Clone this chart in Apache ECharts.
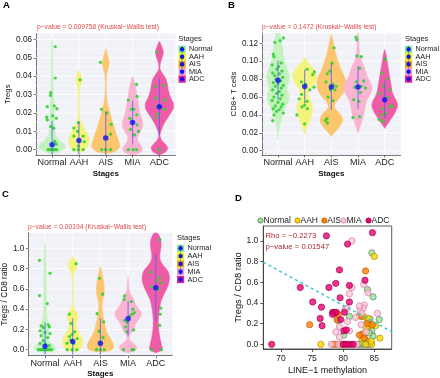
<!DOCTYPE html>
<html><head><meta charset="utf-8">
<script src="https://cdn.jsdelivr.net/npm/echarts@6/dist/echarts.min.js"></script>
<style>html,body{margin:0;padding:0;background:#fff}#c{width:440px;height:378px}</style>
</head><body><div id="c"></div>
<script>
const stages = ['Normal','AAH','AIS','MIA','ADC'];
const violinFill = ['#C4F2BE','#F4F47C','#FAC66E','#F8B4D0','#EE5CA8'];
const keyFill = ['#86EC86','#F2F200','#F5A300','#F5A0C8','#EC1E8E'];
const dFill = ['#8EE88E','#FFD400','#FF8000','#F9C8D8','#E8006E'];
const dStroke = ['#6A6A6A','#A88400','#B05800','#D8709A','#9A0048'];

// ---------- Panel A : Tregs ----------
const tregsTicks = [0,0.01,0.02,0.03,0.04,0.05,0.06];
const tregsMinor = [0.005,0.015,0.025,0.035,0.045,0.055];
const tregsViolin = [
  [[-0.0025,0],[-0.001,0.25],[0.001,0.44],[0.003,0.4],[0.005,0.25],[0.008,0.12],[0.012,0.08],[0.018,0.07],[0.024,0.06],[0.03,0.04],[0.04,0.025],[0.05,0.02],[0.057,0.015],[0.06,0]],
  [[-0.002,0],[0,0.2],[0.002,0.3],[0.005,0.34],[0.008,0.3],[0.011,0.2],[0.014,0.1],[0.017,0.03],[0.022,0.015],[0.03,0.015],[0.034,0.03],[0.036,0.08],[0.0385,0.09],[0.041,0.05],[0.043,0]],
  [[-0.0022,0],[-0.001,0.3],[0.001,0.45],[0.003,0.46],[0.006,0.4],[0.01,0.32],[0.014,0.24],[0.018,0.17],[0.022,0.11],[0.026,0.05],[0.03,0.02],[0.036,0.015],[0.041,0.03],[0.044,0.08],[0.047,0.11],[0.05,0.08],[0.053,0.03],[0.055,0]],
  [[-0.003,0],[-0.0015,0.25],[0,0.33],[0.002,0.28],[0.0045,0.18],[0.007,0.16],[0.01,0.26],[0.013,0.34],[0.016,0.32],[0.02,0.24],[0.024,0.2],[0.028,0.16],[0.032,0.12],[0.036,0.07],[0.04,0]],
  [[-0.003,0],[-0.001,0.22],[0.001,0.27],[0.003,0.2],[0.005,0.08],[0.0075,0.02],[0.01,0.05],[0.014,0.15],[0.018,0.3],[0.022,0.45],[0.025,0.47],[0.028,0.38],[0.032,0.3],[0.036,0.26],[0.039,0.2],[0.042,0.08],[0.044,0.02],[0.047,0.03],[0.05,0.09],[0.053,0.13],[0.056,0.08],[0.059,0]]
];
const tregsPoints = [
  [0,0.12,0.056],[0,0.12,0.039],[0,-0.05,0.031],[0,-0.06,0.0295],[0,-0.18,0.0234],[0,0.08,0.0238],[0,0.18,0.0223],[0,-0.2,0.0177],[0,0.02,0.0184],[0,-0.18,0.0162],[0,0.16,0.0171],[0,-0.06,0.0126],[0,0.06,0.0117],[0,0.1,0.0045],[0,0.15,0.003],
  [0,-0.15,0],[0,-0.08,0],[0,-0.02,0],[0,0.04,0],[0,0.1,0],[0,0.17,0],
  [1,0.04,0.038],[1,-0.02,0.0147],[1,-0.19,0.0118],[1,-0.05,0.01],[1,-0.19,0.0074],[1,0.16,0.0074],[1,0.2,0.0043],[1,-0.02,0.002],[1,-0.19,0],[1,-0.02,0],[1,0.16,0],
  [2,-0.2,0.0475],[2,-0.16,0.022],[2,0.04,0.02],[2,0.2,0.0138],[2,0.18,0.0085],[2,-0.15,0],[2,0,0],[2,0.18,0],
  [3,0.15,0.0355],[3,-0.16,0.027],[3,0.17,0.029],[3,-0.04,0.022],[3,0.05,0.022],[3,0.15,0.019],[3,-0.1,0.017],[3,0.17,0.0135],[3,-0.08,0.011],[3,0.22,0.01],[3,0.07,0.008],[3,-0.16,0],[3,0.02,0],[3,0.15,0],
  [4,-0.1,0.053],[4,-0.15,0.0345],[4,0.18,0.035],[4,-0.14,0.028],[4,0.2,0.027],[4,-0.08,0.0235],[4,0.18,0.022],[4,-0.05,0.0195],[4,-0.12,0.0175],[4,0,0]
];
const tregsMean = [0.0027,0.005,0.0063,0.0148,0.0234];
const tregsLo = [-0.0104,-0.0054,-0.0081,0.003,0.0079];
const tregsHi = [0.0158,0.0154,0.0207,0.0266,0.0389];

// ---------- Panel B : CD8+ T cells ----------
const cd8Ticks = [0,0.02,0.04,0.06,0.08,0.10,0.12];
const cd8Minor = [0.01,0.03,0.05,0.07,0.09,0.11,0.13];
const cd8Violin = [
  [[0.012,0],[0.02,0.02],[0.03,0.07],[0.04,0.15],[0.048,0.25],[0.055,0.34],[0.062,0.36],[0.068,0.3],[0.074,0.33],[0.08,0.38],[0.086,0.36],[0.092,0.3],[0.1,0.22],[0.108,0.17],[0.116,0.14],[0.124,0.1],[0.13,0.07],[0.136,0]],
  [[0.018,0],[0.025,0.06],[0.032,0.15],[0.04,0.23],[0.048,0.26],[0.055,0.2],[0.061,0.12],[0.066,0.14],[0.072,0.25],[0.078,0.36],[0.084,0.4],[0.09,0.33],[0.095,0.2],[0.1,0.08],[0.104,0]],
  [[0.016,0],[0.022,0.15],[0.028,0.3],[0.034,0.38],[0.04,0.32],[0.045,0.18],[0.049,0.1],[0.054,0.15],[0.06,0.3],[0.066,0.42],[0.072,0.48],[0.078,0.48],[0.084,0.42],[0.09,0.33],[0.096,0.26],[0.102,0.2],[0.108,0.15],[0.115,0.1],[0.122,0.06],[0.13,0]],
  [[0.02,0],[0.026,0.06],[0.034,0.14],[0.042,0.2],[0.05,0.24],[0.057,0.3],[0.064,0.42],[0.07,0.47],[0.076,0.42],[0.082,0.32],[0.088,0.26],[0.094,0.2],[0.1,0.12],[0.106,0.06],[0.115,0.035],[0.125,0.03],[0.135,0]],
  [[0.025,0],[0.03,0.1],[0.035,0.2],[0.04,0.3],[0.045,0.38],[0.05,0.43],[0.055,0.4],[0.06,0.32],[0.066,0.25],[0.072,0.22],[0.078,0.19],[0.084,0.16],[0.09,0.13],[0.096,0.1],[0.102,0.07],[0.108,0.04],[0.113,0]]
];
const cd8Points = [
  [0,0.2,0.126],[0,-0.12,0.121],[0,0.08,0.123],[0,-0.18,0.108],[0,-0.15,0.105],[0,0.12,0.098],[0,-0.22,0.096],[0,0.02,0.094],[0,-0.05,0.091],[0,0.15,0.089],[0,-0.2,0.087],[0,0.05,0.086],[0,-0.12,0.084],[0,0.18,0.082],[0,-0.08,0.08],[0,0.1,0.078],[0,-0.18,0.076],[0,0,0.075],[0,0.2,0.073],[0,-0.1,0.072],[0,0.12,0.07],[0,-0.2,0.068],[0,0.05,0.066],[0,-0.05,0.064],[0,0.15,0.062],[0,-0.15,0.06],[0,0.08,0.058],[0,-0.22,0.056],[0,0,0.054],[0,0.18,0.052],[0,-0.1,0.05],[0,0.12,0.049],[0,-0.18,0.047],[0,0.05,0.046],[0,-0.05,0.044],[0,0.2,0.042],[0,-0.15,0.04],[0,-0.2,0.0335],
  [1,0.09,0.091],[1,0.36,0.088],[1,0.3,0.085],[1,-0.12,0.077],[1,0.04,0.074],[1,0.35,0.071],[1,0.19,0.068],[1,-0.12,0.063],[1,-0.21,0.058],[1,0.09,0.055],[1,0,0.051],[1,-0.1,0.049],[1,0.1,0.047],[1,-0.29,0.04],[1,0,0.03],
  [2,0.1,0.115],[2,0.03,0.098],[2,-0.06,0.089],[2,-0.15,0.086],[2,-0.2,0.077],[2,0.06,0.074],[2,0.18,0.072],[2,-0.04,0.068],[2,0.14,0.068],[2,-0.12,0.06],[2,0.06,0.056],[2,-0.16,0.036],[2,-0.22,0.034],[2,-0.15,0.031],
  [3,-0.08,0.127],[3,-0.05,0.124],[3,-0.04,0.106],[3,0.12,0.105],[3,0.06,0.092],[3,-0.06,0.077],[3,0.21,0.078],[3,0.12,0.072],[3,-0.12,0.071],[3,0.28,0.07],[3,0.09,0.065],[3,-0.16,0.057],[3,0.04,0.055],[3,-0.19,0.037],[3,0.06,0.038],
  [4,0.02,0.102],[4,-0.12,0.087],[4,0.1,0.08],[4,-0.04,0.072],[4,0.19,0.068],[4,-0.19,0.064],[4,0.12,0.06],[4,0.28,0.05],[4,-0.06,0.047],[4,0.19,0.049],[4,0.04,0.042],[4,-0.12,0.04],[4,-0.21,0.035],[4,-0.06,0.033]
];
const cd8Mean = [0.0787,0.0717,0.0712,0.0712,0.0569];
const cd8Lo = [0.057,0.053,0.0455,0.047,0.0362];
const cd8Hi = [0.1004,0.0905,0.0978,0.095,0.0782];

// ---------- Panel C : Tregs / CD8 ratio ----------
const ratioTicks = [0,0.2,0.4,0.6,0.8,1.0];
const ratioMinor = [0.1,0.3,0.5,0.7,0.9,1.1];
const ratioViolin = [
  [[-0.03,0],[-0.015,0.25],[0.01,0.36],[0.04,0.3],[0.07,0.15],[0.1,0.1],[0.15,0.11],[0.2,0.13],[0.25,0.12],[0.3,0.07],[0.4,0.04],[0.5,0.045],[0.6,0.035],[0.75,0.035],[0.88,0.03],[0.98,0.02],[1.05,0]],
  [[-0.025,0],[0,0.22],[0.04,0.3],[0.09,0.32],[0.13,0.28],[0.18,0.18],[0.23,0.12],[0.27,0.13],[0.31,0.17],[0.35,0.15],[0.39,0.08],[0.43,0.02],[0.55,0.015],[0.7,0.015],[0.76,0.04],[0.8,0.12],[0.84,0.14],[0.88,0.1],[0.92,0]],
  [[-0.025,0],[0,0.38],[0.04,0.42],[0.08,0.38],[0.13,0.28],[0.18,0.2],[0.24,0.15],[0.3,0.1],[0.37,0.07],[0.44,0.05],[0.5,0.08],[0.56,0.12],[0.62,0.12],[0.68,0.1],[0.74,0.06],[0.8,0.02],[0.82,0]],
  [[-0.03,0],[-0.01,0.22],[0.02,0.28],[0.05,0.22],[0.08,0.1],[0.11,0.03],[0.14,0.04],[0.18,0.14],[0.22,0.2],[0.26,0.25],[0.3,0.35],[0.34,0.42],[0.38,0.4],[0.42,0.3],[0.46,0.22],[0.5,0.18],[0.54,0.1],[0.58,0.04],[0.65,0.02],[0.72,0]],
  [[-0.03,0],[0,0.2],[0.05,0.18],[0.12,0.13],[0.2,0.09],[0.28,0.08],[0.36,0.1],[0.42,0.13],[0.48,0.17],[0.54,0.25],[0.6,0.35],[0.66,0.42],[0.72,0.44],[0.78,0.38],[0.84,0.22],[0.9,0.13],[0.96,0.14],[1.02,0.17],[1.08,0.16],[1.13,0.1],[1.17,0]]
];
const ratioPoints = [
  [0,-0.2,0.882],[0,0.18,0.754],[0,-0.2,0.534],[0,0.08,0.456],[0,-0.14,0.236],[0,0.12,0.246],[0,-0.06,0.22],[0,0.16,0.226],[0,-0.18,0.187],[0,0,0.17],[0,0.18,0.16],[0,-0.14,0.138],[0,0.1,0.12],[0,-0.06,0.089],[0,-0.18,0.062],[0,0.02,0.055],[0,0.15,0.04],
  [0,-0.24,0],[0,-0.17,0],[0,-0.1,0],[0,-0.04,0],[0,0.03,0],[0,0.1,0],[0,0.17,0],[0,0.24,0],
  [1,0.12,0.849],[1,-0.12,0.351],[1,-0.06,0.26],[1,0.07,0.177],[1,-0.02,0.15],[1,-0.12,0.13],[1,0.16,0.11],[1,-0.07,0.095],[1,-0.2,0.065],[1,0.04,0.06],[1,-0.2,0],[1,-0.02,0],[1,0.15,0],
  [2,-0.04,0.705],[2,0.08,0.548],[2,-0.12,0.355],[2,0.12,0.275],[2,-0.05,0.18],[2,0.1,0.12],[2,-0.14,0],[2,0,0],[2,0.14,0],
  [3,-0.13,0.53],[3,-0.14,0.495],[3,0.12,0.475],[3,0.17,0.4],[3,0.22,0.365],[3,0.14,0.35],[3,0.05,0.33],[3,-0.13,0.29],[3,-0.04,0.27],[3,-0.1,0.225],[3,0.2,0.195],[3,-0.04,0.178],[3,-0.16,0],[3,0.14,0],[3,0.2,0],
  [4,0.15,1.085],[4,-0.2,0.765],[4,0.14,0.71],[4,0.03,0.68],[4,0.2,0.66],[4,-0.15,0.62],[4,0.1,0.6],[4,0.18,0.41],[4,0.16,0.35],[4,0.14,0.24],[4,-0.14,0],[4,0.2,0]
];
const ratioMean = [0.035,0.08,0.065,0.305,0.61];
const ratioLo = [-0.2,-0.15,-0.18,0.13,0.28];
const ratioHi = [0.27,0.31,0.31,0.48,0.955];

// ---------- Panel D : LINE-1 methylation vs ratio ----------
const methNormal = [[84.6,0.885],[83.9,0.53],[84.8,0.46],[85.8,0.24],[84.3,0.245],[83.9,0.21],[84.1,0.175],[84.6,0.13],[84.8,0.08],[83.8,0.035],[81.0,0.27],[79.2,0.23],[80.1,0.09],[82.7,0.0],[83.1,0.0],[83.5,0.0],[83.9,0.0],[82.3,0.0],[83.3,0.05],[84.2,0.11],[83.0,0.02],[84.3,0.0]];
const methAAH = [[85.0,0.85],[76.4,0.0],[84.3,0.185],[83.7,0.16],[84.0,0.25],[85.2,0.18],[85.9,0.06],[83.1,0.05],[83.6,0.0],[84.6,0.0],[82.6,0.28],[84.5,0.03],[83.3,0.27]];
const methAIS = [[83.6,0.71],[74.6,0.19],[79.0,0.24],[83.1,0.1],[83.4,0.06],[82.9,0.27],[78.4,0.0],[78.8,0.0],[79.7,0.0],[80.1,0.0],[84.7,0.19],[83.8,0.2],[79.2,0.29],[82.6,0.09]];
const methMIA = [[81.4,1.0],[81.0,0.49],[81.4,0.55],[83.3,0.58],[84.0,0.5],[83.4,0.38],[83.2,0.35],[82.7,0.33],[83.0,0.3],[85.5,0.3],[80.7,0.22],[82.0,0.26],[79.4,0.17],[80.3,0.34],[81.0,0.13],[79.4,0.07],[78.1,0.0],[79.3,0.0],[82.9,0.19],[83.7,0.12],[82.6,0.37],[80.6,0.35],[81.8,0.0],[78.8,0.12],[82.2,0.0]];
const methADC = [[68.5,0.0],[73.1,0.55],[75.1,0.41],[76.5,0.36],[76.3,0.25],[77.3,1.05],[77.7,0.55],[78.3,0.31],[78.6,0.31],[78.9,0.31],[78.8,0.59],[79.4,0.72],[79.5,0.45],[79.6,0.24],[80.2,0.31],[80.1,0.13],[80.7,0.97],[80.5,0.14],[81.0,0.57],[81.0,0.41],[83.5,0.62],[84.7,1.08],[80.0,0.0],[80.4,0.0],[80.8,0.0],[81.2,0.0],[81.6,0.0],[76.6,0.18],[78.3,0.29]];
const fitLine = [[67.15,0.794],[87.8,0.123]];
const methXTicks = [70,75,80,85];
const methYTicks = [0,0.2,0.4,0.6,0.8,1.0];

// ---------- build ----------
const FONT = 'Liberation Sans, Arial, sans-serif';
const VIOLIN_SCALE = 1.12;
const grids = [
  {left:36, top:33.5, width:139.5, height:121.5},
  {left:262, top:33, width:138.7, height:122},
  {left:28.4, top:232.7, width:144, height:123},
  {left:263.3, top:226, width:128.4, height:123}
];
const panels = [
  {violins:tregsViolin, points:tregsPoints, mean:tregsMean, lo:tregsLo, hi:tregsHi, ticks:tregsTicks, minor:tregsMinor, yMin:-0.0029, yMax:0.0632, name:'Tregs', nameGap:23, nameSize:7.8, dec:2},
  {violins:cd8Violin, points:cd8Points, mean:cd8Mean, lo:cd8Lo, hi:cd8Hi, ticks:cd8Ticks, minor:cd8Minor, yMin:-0.0048, yMax:0.1315, name:'CD8+ T cells', nameGap:23, nameSize:7.8, dec:2},
  {violins:ratioViolin, points:ratioPoints, mean:ratioMean, lo:ratioLo, hi:ratioHi, ticks:ratioTicks, minor:ratioMinor, yMin:-0.059, yMax:1.154, name:'Tregs / CD8 ratio', nameGap:20, nameSize:8.3, dec:1}
];

const xAxes = [], yAxes = [], series = [];
panels.forEach((cfg, k) => {
  xAxes.push({type:'value', gridIndex:k, min:-0.6, max:4.6,
    axisLine:{show:true, onZero:false, lineStyle:{color:'#555', width:0.8}},
    axisTick:{show:true, customValues:[0,1,2,3,4], length:2.5, lineStyle:{color:'#555', width:0.8}},
    axisLabel:{customValues:[0,1,2,3,4], formatter:v=>stages[Math.round(v)], fontSize:9, color:'#222', margin:3, fontFamily:FONT},
    splitLine:{show:false},
    name:'Stages', nameLocation:'middle', nameGap:14.5, nameTextStyle:{fontSize:8, fontWeight:'bold', color:'#111', fontFamily:FONT}});
  yAxes.push({type:'value', gridIndex:k, min:cfg.yMin, max:cfg.yMax,
    axisLine:{show:true, onZero:false, lineStyle:{color:'#555', width:0.8}},
    axisTick:{show:true, customValues:cfg.ticks, length:2.5, lineStyle:{color:'#555', width:0.8}},
    axisLabel:{customValues:cfg.ticks, formatter:v=>v.toFixed(cfg.dec), fontSize:8.2, color:'#222', margin:4, fontFamily:FONT},
    splitLine:{show:false},
    name:cfg.name, nameLocation:'middle', nameGap:cfg.nameGap, nameTextStyle:{fontSize:cfg.nameSize, color:'#111', fontFamily:FONT}});
  const gridData = cfg.ticks.map(v=>[0,v]).concat(cfg.minor.map(v=>[1,v])).concat(stages.map((s,i)=>[2,i]));
  series.push({type:'custom', xAxisIndex:k, yAxisIndex:k, z:1, silent:true, data:gridData, encode:{x:0,y:1},
    renderItem:(p, api) => {
      const kind = api.value(0), v = api.value(1);
      let a, b;
      if (kind === 2) { a = api.coord([v, cfg.yMin]); b = api.coord([v, cfg.yMax]); }
      else { a = api.coord([-0.6, v]); b = api.coord([4.6, v]); }
      return {type:'line', shape:{x1:a[0],y1:a[1],x2:b[0],y2:b[1]}, style:{stroke:'#FFFFFF', lineWidth: kind===1?0.5:0.9}};
    }});
  series.push({type:'custom', xAxisIndex:k, yAxisIndex:k, z:2, silent:true, clip:true,
    data:stages.map((s,i)=>[i, cfg.mean[i]]), encode:{x:0,y:1},
    renderItem:(p, api) => {
      const i = api.value(0), prof = cfg.violins[i], pts = [];
      prof.forEach(q => pts.push(api.coord([i - q[1]*VIOLIN_SCALE, q[0]])));
      for (let j = prof.length-1; j >= 0; j--) pts.push(api.coord([i + prof[j][1]*VIOLIN_SCALE, prof[j][0]]));
      return {type:'polygon', shape:{points:pts, smooth:0.3}, style:{fill:violinFill[i], stroke:violinFill[i], lineWidth:0.6}};
    }});
  series.push({type:'scatter', xAxisIndex:k, yAxisIndex:k, z:3, silent:true, symbol:'circle', symbolSize:3.2,
    itemStyle:{color:'#2ED12E', opacity:0.9},
    data:cfg.points.map(q=>[q[0]+q[1], q[2]])});
  series.push({type:'custom', xAxisIndex:k, yAxisIndex:k, z:4, silent:true, clip:true,
    data:stages.map((s,i)=>[i, cfg.mean[i]]), encode:{x:0,y:1},
    renderItem:(p, api) => {
      const i = api.value(0);
      const a = api.coord([i, cfg.lo[i]]), b = api.coord([i, cfg.hi[i]]);
      return {type:'line', shape:{x1:a[0],y1:a[1],x2:b[0],y2:b[1]}, style:{stroke:'rgba(90,90,255,0.75)', lineWidth:1.1}};
    }});
  series.push({type:'scatter', xAxisIndex:k, yAxisIndex:k, z:5, silent:true, symbol:'circle', symbolSize:5.5,
    itemStyle:{color:'#0A14F0'}, data:stages.map((s,i)=>[i, cfg.mean[i]])});
});

// Panel D axes
xAxes.push({type:'value', gridIndex:3, min:67.15, max:87.8,
  axisLine:{show:true, onZero:false, lineStyle:{color:'#333', width:0.8}},
  axisTick:{show:true, customValues:methXTicks, length:3, lineStyle:{color:'#333', width:0.8}},
  axisLabel:{customValues:methXTicks, fontSize:8.5, color:'#222', margin:5, fontFamily:FONT},
  splitLine:{show:false},
  name:'LINE\u22121 methylation', nameLocation:'middle', nameGap:17, nameTextStyle:{fontSize:9, color:'#111', fontFamily:FONT}});
yAxes.push({type:'value', gridIndex:3, min:-0.045, max:1.145,
  axisLine:{show:true, onZero:false, lineStyle:{color:'#333', width:0.8}},
  axisTick:{show:true, customValues:methYTicks, length:3, lineStyle:{color:'#333', width:0.8}},
  axisLabel:{customValues:methYTicks, formatter:v=>v.toFixed(1), fontSize:8.5, color:'#222', margin:5, fontFamily:FONT},
  splitLine:{show:false},
  name:'Tregs / CD8 ratio', nameLocation:'middle', nameGap:18, nameTextStyle:{fontSize:9.3, color:'#111', fontFamily:FONT}});

const methGroups = [methNormal, methAAH, methAIS, methMIA, methADC];
methGroups.forEach((g, i) => {
  series.push({type:'scatter', name:stages[i], xAxisIndex:3, yAxisIndex:3, z:3+i, silent:true, symbol:'circle', symbolSize:6.3,
    itemStyle:{color:dFill[i], borderColor:dStroke[i], borderWidth:0.8}, data:g});
});
series.push({type:'line', xAxisIndex:3, yAxisIndex:3, z:10, silent:true, symbol:'none', data:fitLine,
  lineStyle:{color:'#2CC8D0', width:1.4, type:[3,3]}});

// graphics
const graphics = [];
function txt(x, y, text, size, color, opts) {
  return {type:'text', x:x, y:y, silent:true, style:Object.assign({text:text, fontSize:size, fill:color, fontFamily:FONT, verticalAlign:'middle', align:'left'}, opts||{})};
}
graphics.push(txt(3, 5.5, 'A', 9.5, '#000', {fontWeight:'bold'}));
graphics.push(txt(228, 5.5, 'B', 9.5, '#000', {fontWeight:'bold'}));
graphics.push(txt(2, 194, 'C', 9.5, '#000', {fontWeight:'bold'}));
graphics.push(txt(235, 198, 'D', 9.5, '#000', {fontWeight:'bold'}));
graphics.push(txt(37, 27, 'p\u2212value = 0.009758 (Kruskal\u2212Wallis test)', 6.7, '#E04848'));
graphics.push(txt(262, 27, 'p\u2212value = 0.1472 (Kruskal\u2212Wallis test)', 6.7, '#E04848'));
graphics.push(txt(28, 227, 'p\u2212value = 0.00194 (Kruskal\u2212Wallis test)', 6.7, '#E04848'));
graphics.push(txt(265.5, 236, 'Rho = \u22120.2273', 7.7, '#A52A2A'));
graphics.push(txt(265.5, 246.5, 'p\u2212value = 0.01547', 7.7, '#A52A2A'));

function stageLegend(x, y, step) {
  graphics.push(txt(x, y, 'Stages', 7.5, '#222'));
  stages.forEach((s, i) => {
    const ry = y + 10.3 + i*step;
    graphics.push({type:'rect', silent:true, shape:{x:x, y:ry-3.6, width:7.2, height:7.2}, style:{fill:keyFill[i]}});
    graphics.push({type:'line', silent:true, shape:{x1:x+3.6, y1:ry-3.6, x2:x+3.6, y2:ry+3.6}, style:{stroke:'rgba(90,90,255,0.8)', lineWidth:0.8}});
    graphics.push({type:'circle', silent:true, shape:{cx:x+3.6, cy:ry, r:2.2}, style:{fill:'#0A14F0'}});
    graphics.push(txt(x+10.5, ry, s, 7.3, '#222'));
  });
}
stageLegend(178.5, 39, 7.45);
stageLegend(405, 39, 7.45);
stageLegend(177, 238, 7.8);

// Panel D legend row
const dLegendX = [260.5, 297.5, 324.3, 343.5, 368.5];
stages.forEach((s, i) => {
  graphics.push({type:'circle', silent:true, shape:{cx:dLegendX[i], cy:220.5, r:2.6}, style:{fill:dFill[i], stroke:dStroke[i], lineWidth:0.8}});
  graphics.push(txt(dLegendX[i]+3, 220.5, s, 8.5, '#222'));
});

const chart = echarts.init(document.getElementById('c'), null, {renderer:'canvas'});
chart.setOption({
  animation:false,
  backgroundColor:'#FFFFFF',
  textStyle:{fontFamily:FONT},
  grid: grids.map((g, k) => Object.assign({show:true, backgroundColor: k<3 ? '#F1F1F8' : '#FFFFFF', borderWidth: k<3?0:0.8, borderColor:'#333', outerBoundsMode:'none', containLabel:false}, g)),
  xAxis: xAxes,
  yAxis: yAxes,
  series: series,
  graphic: graphics
});
</script>
</body></html>
